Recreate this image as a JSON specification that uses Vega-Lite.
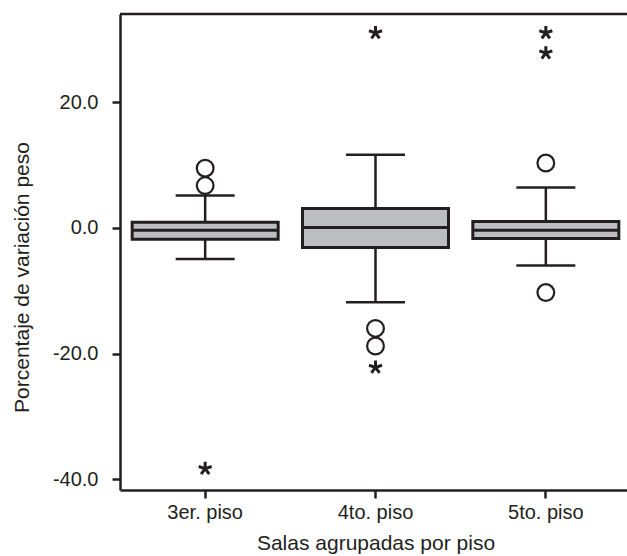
{
  "$schema": "https://vega.github.io/schema/vega-lite/v6.json",
  "autosize": {"type": "none"},
  "padding": {"left": 120, "top": 14, "right": 0, "bottom": 66},
  "width": 511,
  "height": 476,
  "background": "white",
  "config": {
    "font": "Liberation Sans",
    "locale": {"number": {"decimal": ".", "thousands": ",", "grouping": [3], "currency": ["$", ""], "minus": "-"}},
    "view": {"stroke": null},
    "axis": {
      "labelFont": "Liberation Sans",
      "titleFont": "Liberation Sans",
      "labelFontSize": 20,
      "titleFontSize": 21,
      "titleFontWeight": "normal",
      "labelColor": "#231f20",
      "titleColor": "#231f20",
      "domainColor": "#231f20",
      "domainWidth": 2.5,
      "tickColor": "#231f20",
      "tickWidth": 2.5,
      "tickSize": 8,
      "grid": false
    }
  },
  "datasets": {
    "boxes": [
      {"piso": "3er. piso", "lower": -4.98, "q1": -1.81, "median": -0.41, "q3": 0.89, "upper": 5.15},
      {"piso": "4to. piso", "lower": -11.83, "q1": -3.15, "median": 0.03, "q3": 3.05, "upper": 11.6},
      {"piso": "5to. piso", "lower": -6.0, "q1": -1.72, "median": -0.38, "q3": 0.99, "upper": 6.4}
    ],
    "outliers": [
      {"piso": "3er. piso", "valor": 9.48, "tipo": "circulo"},
      {"piso": "3er. piso", "valor": 6.71, "tipo": "circulo"},
      {"piso": "3er. piso", "valor": -38.3, "tipo": "extremo"},
      {"piso": "4to. piso", "valor": 31.0, "tipo": "extremo"},
      {"piso": "4to. piso", "valor": -16.0, "tipo": "circulo"},
      {"piso": "4to. piso", "valor": -18.8, "tipo": "circulo"},
      {"piso": "4to. piso", "valor": -22.2, "tipo": "extremo"},
      {"piso": "5to. piso", "valor": 31.0, "tipo": "extremo"},
      {"piso": "5to. piso", "valor": 27.8, "tipo": "extremo"},
      {"piso": "5to. piso", "valor": 10.3, "tipo": "circulo"},
      {"piso": "5to. piso", "valor": -10.3, "tipo": "circulo"}
    ]
  },
  "encoding": {
    "x": {
      "field": "piso",
      "type": "nominal",
      "sort": ["3er. piso", "4to. piso", "5to. piso"],
      "scale": {"paddingInner": 0, "paddingOuter": 0},
      "axis": {"title": "Salas agrupadas por piso", "labelAngle": 0, "labelPadding": 4, "titlePadding": 10}
    }
  },
  "layer": [
    {
      "data": {"name": "boxes"},
      "mark": {"type": "rule", "color": "#231f20", "strokeWidth": 2.5},
      "encoding": {
        "y": {
          "field": "lower",
          "type": "quantitative",
          "scale": {"domain": [-41.7, 34], "nice": false, "zero": false},
          "axis": {"title": "Porcentaje de variación peso", "values": [-40, -20, 0, 20], "format": ".1f", "labelPadding": 14, "titleY": 263, "titleX": -88, "titleBaseline": "bottom", "titleAngle": -90, "titleAlign": "center"}
        },
        "y2": {"field": "upper"}
      }
    },
    {
      "data": {"values": [{"tope": 34}]},
      "mark": {"type": "rule", "color": "#231f20", "strokeWidth": 2.5},
      "encoding": {"x": null, "y": {"field": "tope", "type": "quantitative"}}
    },
    {
      "data": {"name": "boxes"},
      "mark": {"type": "tick", "color": "#231f20", "size": 59, "thickness": 2.5, "opacity": 1},
      "encoding": {"y": {"field": "lower", "type": "quantitative"}}
    },
    {
      "data": {"name": "boxes"},
      "mark": {"type": "tick", "color": "#231f20", "size": 59, "thickness": 2.5, "opacity": 1},
      "encoding": {"y": {"field": "upper", "type": "quantitative"}}
    },
    {
      "data": {"name": "boxes"},
      "mark": {"type": "bar", "size": 146, "fill": "#bcbec0", "stroke": "#231f20", "strokeWidth": 3},
      "encoding": {
        "y": {"field": "q1", "type": "quantitative"},
        "y2": {"field": "q3"}
      }
    },
    {
      "data": {"name": "boxes"},
      "mark": {"type": "tick", "color": "#231f20", "size": 146, "thickness": 3, "opacity": 1},
      "encoding": {"y": {"field": "median", "type": "quantitative"}}
    },
    {
      "data": {"name": "outliers"},
      "transform": [{"filter": "datum.tipo === 'circulo'"}],
      "mark": {"type": "point", "shape": "circle", "size": 280, "filled": false, "fill": "white", "fillOpacity": 1, "stroke": "#231f20", "strokeWidth": 2.2, "opacity": 1},
      "encoding": {"y": {"field": "valor", "type": "quantitative"}}
    },
    {
      "data": {"name": "outliers"},
      "transform": [{"filter": "datum.tipo === 'extremo'"}],
      "mark": {"type": "point", "shape": "M0,-1.05L0,0.05M0,0L1,-0.32M0,0L0.62,0.85M0,0L-0.62,0.85M0,0L-1,-0.32", "size": 170, "filled": false, "fill": null, "stroke": "#231f20", "strokeWidth": 3, "opacity": 1},
      "encoding": {"y": {"field": "valor", "type": "quantitative"}}
    }
  ]
}
